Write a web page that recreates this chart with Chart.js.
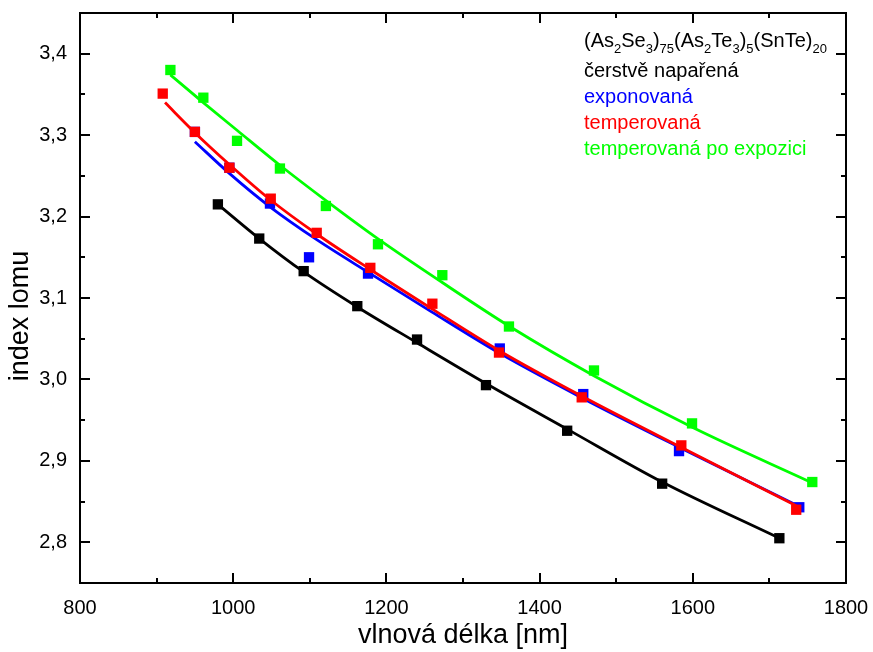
<!DOCTYPE html>
<html>
<head>
<meta charset="utf-8">
<script src="https://cdn.jsdelivr.net/npm/chart.js@4.4.0/dist/chart.umd.min.js"></script>
<style>
  html, body { margin: 0; padding: 0; background: #fff; }
  canvas { display: block; }
</style>
</head>
<body>
<canvas id="chart" width="873" height="652"></canvas>
<script>
// Refractive index vs. wavelength for (As2Se3)75(As2Te3)5(SnTe)20 films.
// Measured points (x = wavelength in nm, y = refractive index).
const freshX = [980, 1034, 1092, 1162, 1240, 1330, 1436, 1560, 1713];
const freshY = [3.215, 3.173, 3.133, 3.090, 3.049, 2.993, 2.937, 2.872, 2.805];

const exposedX = [950, 995, 1048, 1099, 1176, 1348, 1457, 1582, 1739];
const exposedY = [3.304, 3.260, 3.216, 3.150, 3.130, 3.038, 2.982, 2.912, 2.843];

const annealedX = [908, 950, 995, 1049, 1109, 1179, 1260, 1347, 1455, 1585, 1735];
const annealedY = [3.351, 3.304, 3.260, 3.222, 3.180, 3.137, 3.093, 3.033, 2.978, 2.919, 2.840];

const annealedExposedX = [918, 961, 1005, 1061, 1121, 1189, 1273, 1360, 1471, 1599, 1756];
const annealedExposedY = [3.380, 3.346, 3.293, 3.259, 3.213, 3.166, 3.128, 3.065, 3.011, 2.946, 2.874];

// Dispersion fit curves
const freshFitX = [980, 1034, 1092, 1162, 1240, 1330, 1436, 1560, 1713];
const freshFitY = [3.215, 3.173, 3.132, 3.089, 3.045, 2.995, 2.939, 2.874, 2.805];

const exposedFitX = [950, 995, 1048, 1110, 1179, 1259, 1348, 1456, 1586, 1739];
const exposedFitY = [3.292, 3.253, 3.212, 3.171, 3.130, 3.083, 3.032, 2.977, 2.915, 2.844];

const annealedFitX = [911, 949, 995, 1048, 1110, 1179, 1259, 1348, 1456, 1586, 1735];
const annealedFitY = [3.340, 3.304, 3.264, 3.221, 3.178, 3.135, 3.087, 3.035, 2.979, 2.916, 2.845];

const annealedExposedFitX = [918, 961, 1005, 1061, 1122, 1190, 1273, 1361, 1472, 1600, 1756];
const annealedExposedFitY = [3.374, 3.340, 3.306, 3.263, 3.219, 3.172, 3.119, 3.065, 3.004, 2.941, 2.873];

// Axis ticks
const xMajorTicks = [800, 1000, 1200, 1400, 1600, 1800];
const xMinorTicks = [900, 1100, 1300, 1500, 1700];
const yMajorTicks = [2.8, 2.9, 3.0, 3.1, 3.2, 3.3, 3.4];
const yMinorTicks = [2.85, 2.95, 3.05, 3.15, 3.25, 3.35];

// Axis titles and legend text ([text, isSubscript] for the composition)
const xTitle = 'vlnová délka [nm]';
const yTitle = 'index lomu';
const legendTitleParts = [
  ['(As', 0], ['2', 1], ['Se', 0], ['3', 1], [')', 0], ['75', 1],
  ['(As', 0], ['2', 1], ['Te', 0], ['3', 1], [')', 0], ['5', 1],
  ['(SnTe)', 0], ['20', 1]
];
const seriesNames = ['čerstvě napařená', 'exponovaná', 'temperovaná', 'temperovaná po expozici'];
const seriesColors = ['#000000', '#0000ff', '#ff0000', '#00ff00'];

const FONT = '"Liberation Sans", Arial, Helvetica, sans-serif';

const pts = (xs, ys) => xs.map((x, i) => ({ x, y: ys[i] }));

function markers(xs, ys, color, order) {
  return {
    data: pts(xs, ys), showLine: false, order,
    pointStyle: 'rect', pointRadius: 7.3, pointHoverRadius: 7.3,
    pointBackgroundColor: color, pointBorderWidth: 0, borderColor: color
  };
}
function curve(xs, ys, color, order) {
  return {
    data: pts(xs, ys), showLine: true, order,
    borderColor: color, borderWidth: 2.8, pointRadius: 0, pointHoverRadius: 0,
    cubicInterpolationMode: 'monotone', fill: false
  };
}

// Frame around the plot with inward ticks on all four sides, plus the y title
const frameTicks = {
  id: 'frameTicks',
  afterDatasetsDraw(chart) {
    const { ctx, chartArea: a, scales: { x, y } } = chart;
    ctx.save();
    ctx.strokeStyle = '#000';
    ctx.lineWidth = 2;
    ctx.lineCap = 'butt';
    ctx.beginPath();
    const xt = (v, len) => {
      const p = Math.round(x.getPixelForValue(v));
      ctx.moveTo(p, a.bottom); ctx.lineTo(p, a.bottom - len);
      ctx.moveTo(p, a.top); ctx.lineTo(p, a.top + len);
    };
    const yt = (v, len) => {
      const p = Math.round(y.getPixelForValue(v));
      ctx.moveTo(a.left, p); ctx.lineTo(a.left + len, p);
      ctx.moveTo(a.right, p); ctx.lineTo(a.right - len, p);
    };
    xMajorTicks.forEach(v => xt(v, 10));
    xMinorTicks.forEach(v => xt(v, 5));
    yMajorTicks.forEach(v => yt(v, 10));
    yMinorTicks.forEach(v => yt(v, 5));
    ctx.stroke();
    ctx.strokeRect(a.left, a.top, a.right - a.left, a.bottom - a.top);

    // rotated y-axis title
    ctx.translate(21, 316);
    ctx.rotate(-Math.PI / 2);
    ctx.font = '27px ' + FONT;
    ctx.fillStyle = '#000';
    ctx.textAlign = 'center';
    ctx.textBaseline = 'middle';
    ctx.fillText(yTitle, 0, 0);
    ctx.restore();
  }
};

// Text legend in the upper right corner
const textLegend = {
  id: 'textLegend',
  afterDraw(chart) {
    const ctx = chart.ctx;
    ctx.save();
    ctx.textBaseline = 'alphabetic';
    ctx.textAlign = 'left';
    let x = 584;
    const base = 47;
    legendTitleParts.forEach(([t, sub]) => {
      ctx.font = (sub ? '13px ' : '20px ') + FONT;
      ctx.fillStyle = '#000';
      ctx.fillText(t, x, sub ? base + 6 : base);
      x += ctx.measureText(t).width;
    });
    ctx.font = '20px ' + FONT;
    seriesNames.forEach((name, i) => {
      ctx.fillStyle = seriesColors[i];
      ctx.fillText(name, 584, 77 + i * 26);
    });
    ctx.restore();
  }
};

new Chart(document.getElementById('chart'), {
  type: 'scatter',
  data: {
    datasets: [
      markers(annealedExposedX, annealedExposedY, seriesColors[3], 1),
      curve(annealedExposedFitX, annealedExposedFitY, seriesColors[3], 2),
      markers(annealedX, annealedY, seriesColors[2], 3),
      curve(annealedFitX, annealedFitY, seriesColors[2], 4),
      markers(exposedX, exposedY, seriesColors[1], 5),
      curve(exposedFitX, exposedFitY, seriesColors[1], 6),
      markers(freshX, freshY, seriesColors[0], 7),
      curve(freshFitX, freshFitY, seriesColors[0], 8)
    ]
  },
  options: {
    responsive: false,
    animation: false,
    devicePixelRatio: 1,
    layout: { padding: { top: 13, right: 27, left: 0, bottom: 0 } },
    plugins: { legend: { display: false }, tooltip: { enabled: false } },
    scales: {
      x: {
        type: 'linear', min: 800, max: 1800,
        afterBuildTicks: s => { s.ticks = xMajorTicks.map(v => ({ value: v })); },
        afterFit: s => { s.height = 69; s.paddingLeft = 0; s.paddingRight = 0; },
        grid: { display: false, drawTicks: false },
        border: { display: false },
        ticks: {
          padding: 13, color: '#000', maxRotation: 0, autoSkip: false,
          font: { family: FONT, size: 20 },
          callback: v => String(v)
        },
        title: {
          display: true, text: xTitle, color: '#000',
          font: { family: FONT, size: 27 }, padding: { top: 0, bottom: 0 }
        }
      },
      y: {
        type: 'linear', min: 2.75, max: 3.45,
        afterBuildTicks: s => { s.ticks = yMajorTicks.map(v => ({ value: v })); },
        afterFit: s => { s.width = 80; s.paddingTop = 0; s.paddingBottom = 0; },
        grid: { display: false, drawTicks: false },
        border: { display: false },
        ticks: {
          padding: 13, color: '#000', autoSkip: false,
          font: { family: FONT, size: 20 },
          callback: v => v.toFixed(1).replace('.', ',')
        },
        title: { display: false }
      }
    }
  },
  plugins: [frameTicks, textLegend]
});
</script>
</body>
</html>
